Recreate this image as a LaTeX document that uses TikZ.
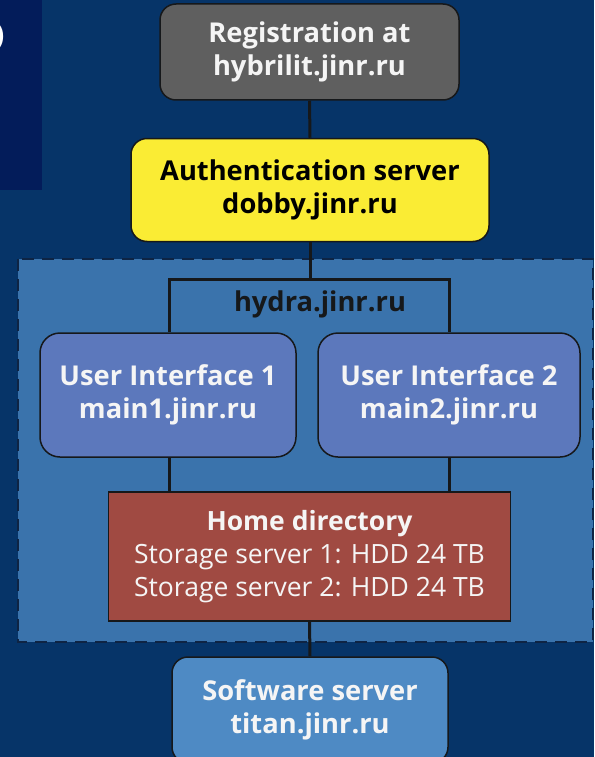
\documentclass[tikz,border=0pt]{standalone}
\usepackage{fontspec}
\setmainfont{Open Sans}
\pgfdeclarelayer{bg}
\pgfdeclarelayer{mid}
\pgfsetlayers{bg,mid,main}
\definecolor{navy}{RGB}{6,52,104}
\definecolor{panel}{RGB}{3,28,90}
\definecolor{graybox}{RGB}{95,95,95}
\definecolor{yellowbox}{RGB}{250,236,52}
\definecolor{uiblue}{RGB}{92,120,188}
\definecolor{region}{RGB}{58,115,172}
\definecolor{redbox}{RGB}{160,74,66}
\definecolor{softblue}{RGB}{78,138,196}
\definecolor{dark}{RGB}{22,24,26}
\definecolor{dashc}{RGB}{14,36,68}
\definecolor{offwhite}{RGB}{245,245,245}
\tikzset{
  box/.style={draw=dark, line width=1.5pt, align=center, inner sep=0pt, text=offwhite},
  rbox/.style={box, rounded corners=16pt},
  bfont/.style={font=\fontsize{27.3}{33}\selectfont\bfseries},
  conn/.style={draw=dark, line width=3pt},
}
\begin{document}
\begin{tikzpicture}[x=1pt,y=-1pt]
\useasboundingbox (0,0) rectangle (594,757);
\clip (0,0) rectangle (594,757);
\begin{pgfonlayer}{bg}
  \fill[navy] (0,0) rectangle (594,757);
  \fill[panel] (0,0) rectangle (42,190);
  \node[anchor=south east, inner sep=0pt, text=white, font=\fontsize{100}{100}\selectfont\bfseries] (frag) at (8,58) {S};
  \draw[fill=region, draw=dashc, line width=2.5pt, dash pattern=on 12pt off 8pt] (18,259) rectangle (593,642);
\end{pgfonlayer}

\node[rbox, fill=graybox, minimum width=299pt, minimum height=96pt, bfont] (reg) at (309.5,52) {Registration at\\hybrilit.jinr.ru};
\node[rbox, fill=yellowbox, text=black, minimum width=358pt, minimum height=103pt, bfont] (auth) at (310,190) {Authentication server\\dobby.jinr.ru};
\node[inner sep=0pt, text=dark, bfont] (hydra) at (320,304) {hydra.jinr.ru};
\node[rbox, fill=uiblue, rounded corners=20pt, minimum width=256pt, minimum height=124pt, bfont] (ui1) at (168,395) {User Interface 1\\main1.jinr.ru};
\node[rbox, fill=uiblue, rounded corners=20pt, minimum width=262pt, minimum height=124pt, bfont] (ui2) at (449,395) {User Interface 2\\main2.jinr.ru};
\node[box, fill=redbox, minimum width=402pt, minimum height=129pt, font=\fontsize{26.5}{33}\selectfont] (home) at (309.5,556.5) {\textbf{Home directory}\\Storage server 1: HDD 24 TB\\Storage server 2: HDD 24 TB};
\node[rbox, fill=softblue, minimum width=276pt, minimum height=106pt, bfont] (soft) at (310,710) {Software server\\titan.jinr.ru};

\coordinate (brtop) at (310,279);
\coordinate (brL) at (169,279);
\coordinate (brR) at (449,279);
\begin{pgfonlayer}{mid}
  \draw[conn] (reg.south) -- (auth.north);
  \draw[conn] (auth.south) -- (brtop);
  \draw[conn] (ui1.north -| brL) -- (brL) -- (brR) -- (ui2.north -| brR);
  \draw[conn] (ui1.south -| brL) -- (home.north -| brL);
  \draw[conn] (ui2.south -| brR) -- (home.north -| brR);
  \draw[conn] (home.south) -- (soft.north);
\end{pgfonlayer}
\end{tikzpicture}
\end{document}
